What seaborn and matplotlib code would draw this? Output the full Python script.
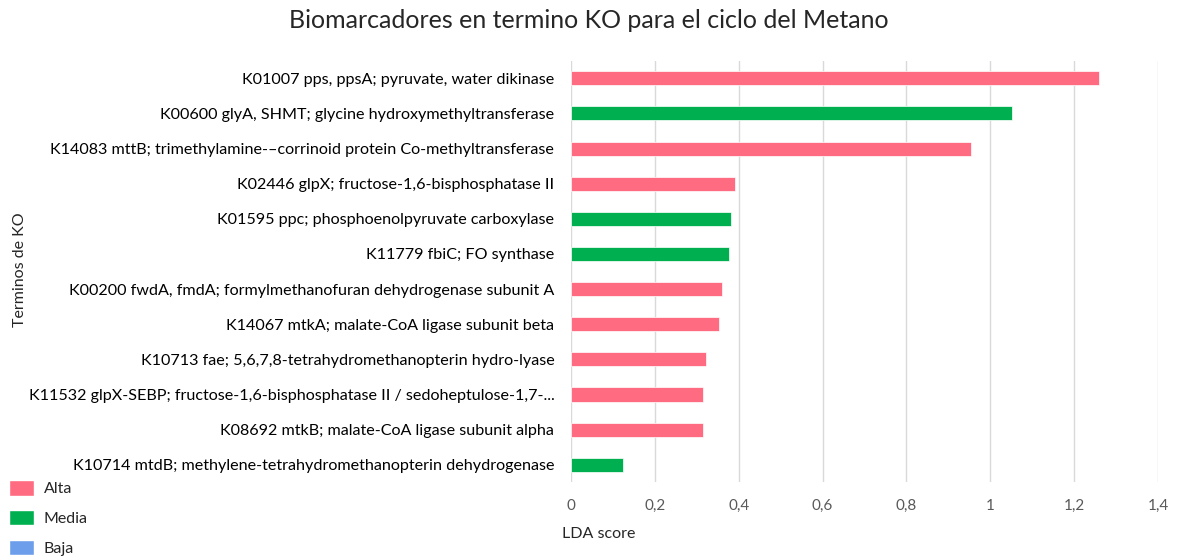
import seaborn as sns
import matplotlib.pyplot as plt
import pandas as pd
from matplotlib.patches import Patch

# Datos
terminos = [
    "K01007 pps, ppsA; pyruvate, water dikinase",
    "K00600 glyA, SHMT; glycine hydroxymethyltransferase",
    "K14083 mttB; trimethylamine-\u2013corrinoid protein Co-methyltransferase",
    "K02446 glpX; fructose-1,6-bisphosphatase II",
    "K01595 ppc; phosphoenolpyruvate carboxylase",
    "K11779 fbiC; FO synthase",
    "K00200 fwdA, fmdA; formylmethanofuran dehydrogenase subunit A",
    "K14067 mtkA; malate-CoA ligase subunit beta",
    "K10713 fae; 5,6,7,8-tetrahydromethanopterin hydro-lyase",
    "K11532 glpX-SEBP; fructose-1,6-bisphosphatase II / sedoheptulose-1,7-...",
    "K08692 mtkB; malate-CoA ligase subunit alpha",
    "K10714 mtdB; methylene-tetrahydromethanopterin dehydrogenase",
]
lda = [1.259, 1.051, 0.953, 0.391, 0.381, 0.376, 0.360, 0.353, 0.323, 0.316, 0.316, 0.123]
nivel = ["Alta", "Media", "Alta", "Alta", "Media", "Media", "Alta", "Alta", "Alta", "Alta", "Alta", "Media"]

niveles = ["Alta", "Media", "Baja"]
colores = {"Alta": "#FF6B80", "Media": "#00B050", "Baja": "#6D9EEB"}
xticks = [0, 0.2, 0.4, 0.6, 0.8, 1.0, 1.2, 1.4]
xtick_labels = ["0", "0,2", "0,4", "0,6", "0,8", "1", "1,2", "1,4"]

df = pd.DataFrame({"Termino": terminos, "LDA": lda, "Nivel": nivel})

sns.set_style("white")
plt.rcParams["font.family"] = ["Lato", "DejaVu Sans"]

fig = plt.figure(figsize=(11.78, 5.57), dpi=100)
ax = fig.add_axes([0.4847, 0.134, 0.4983, 0.757])

sns.barplot(data=df, y="Termino", x="LDA", hue="Nivel", palette=colores,
            hue_order=niveles, dodge=False, width=0.4, orient="h",
            saturation=1, legend=False, ax=ax, edgecolor="white", linewidth=0.5)

ax.set_xlim(0, 1.4)
ax.set_ylim(11.5, -0.5)
ax.set_xticks(xticks)
ax.set_xticklabels(xtick_labels, color="#595959", fontsize=11)
ax.tick_params(axis="y", labelsize=11.6, length=0, pad=12, labelcolor="#000000")
ax.tick_params(axis="x", length=0, pad=12)
ax.grid(axis="x", color="#D9D9D9", linewidth=1)
ax.set_axisbelow(True)
for s in ax.spines.values():
    s.set_visible(False)
ax.set_xlabel("")
ax.set_ylabel("")

fig.text(0.50, 0.963, "Biomarcadores en termino KO para el ciclo del Metano",
         ha="center", va="center", fontsize=18, color="#262626")
fig.text(0.017, 0.515, "Terminos de KO", rotation=90, ha="center", va="center",
         fontsize=11.5, color="#262626")
fig.text(0.508, 0.042, "LDA score", ha="center", va="center",
         fontsize=11.5, color="#262626")

handles = [Patch(facecolor=colores[n], label=n) for n in niveles]
fig.legend(handles=handles, loc="lower left", bbox_to_anchor=(-0.002, -0.018),
           frameon=False, fontsize=11.5, handlelength=1.6, handleheight=1.1,
           labelspacing=0.85, handletextpad=0.6, borderaxespad=0.3)

fig.savefig("out.png", dpi=100)
